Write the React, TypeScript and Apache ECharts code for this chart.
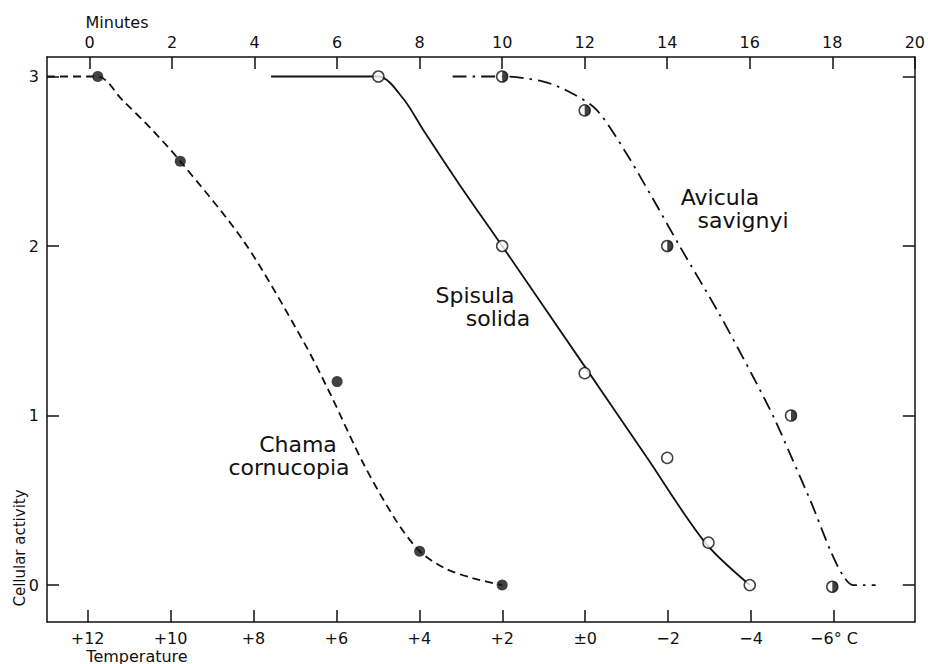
import React, { useEffect, useRef } from "react";
import * as echarts from "echarts";

// ---- tick values ----
const minuteTicks = [0, 2, 4, 6, 8, 10, 12, 14, 16, 18, 20];
const temperatureTicks = [12, 10, 8, 6, 4, 2, 0, -2, -4, -6];
const activityTicks = [0, 1, 2, 3];

// ---- measured points [minutes, cellular activity] ----
const chamaPoints = [[0.2, 3.0], [2.2, 2.5], [6.0, 1.2], [8.0, 0.2], [10.0, 0.0]];
const spisulaPoints = [[7.0, 3.0], [10.0, 2.0], [12.0, 1.25], [14.0, 0.75], [15.0, 0.25], [16.0, 0.0]];
const aviculaPoints = [[10.0, 3.0], [12.0, 2.8], [14.0, 2.0], [17.0, 1.0], [18.0, -0.01]];

// ---- fitted curves [minutes, activity] ----
const chamaCurve = [
  [-1.03, 3.0], [0.2, 3.0], [0.8, 2.86], [1.5, 2.69], [2.2, 2.5], [3.76, 2.02],
  [5.2, 1.43], [5.83, 1.13], [6.63, 0.72], [7.43, 0.38], [8.0, 0.2],
  [8.6, 0.1], [9.3, 0.04], [10.0, 0.0],
];
const spisulaCurve = [
  [4.4, 3.0], [7.0, 3.0], [7.6, 2.87], [8.1, 2.68], [9.0, 2.35], [10.0, 2.0],
  [12.0, 1.29], [13.5, 0.755], [14.92, 0.25], [16.0, 0.0],
];
const aviculaCurve = [
  [8.8, 3.0], [10.0, 3.0], [11.0, 2.97], [11.7, 2.9], [12.3, 2.8], [13.0, 2.55], [13.65, 2.28],
  [14.3, 2.0], [15.26, 1.6], [16.1, 1.22], [16.6, 0.98], [17.0, 0.76], [17.5, 0.48],
  [17.96, 0.2], [18.25, 0.06], [18.5, 0.0], [19.05, 0.0],
];

const INK = "#111111";
const FONT = "DejaVu Sans";

function tempLabel(v: number): string {
  if (v === 0) return "±0";
  if (v === -6) return "−6° C";
  if (v > 0) return "+" + v;
  return "−" + Math.abs(v);
}

export default function App() {
  const ref = useRef<HTMLDivElement>(null);

  useEffect(() => {
    if (!ref.current) return;
    const chart = echarts.init(ref.current, null, { renderer: "svg" });
    const axisLine = { show: true, onZero: false, lineStyle: { color: INK, width: 1.5 } };
    const tick = (vals: number[]) => ({
      show: true,
      inside: true,
      length: 12,
      customValues: vals,
      lineStyle: { color: INK, width: 1.5 },
    });
    const lineSeries = (name: string, data: number[][], type: any) => ({
      name,
      type: "line",
      xAxisIndex: 0,
      yAxisIndex: 0,
      data,
      showSymbol: false,
      symbol: "none",
      smooth: 0.3,
      lineStyle: { color: INK, width: 1.8, type },
      z: 2,
      silent: true,
    });

    chart.setOption({
      animation: false,
      backgroundColor: "#ffffff",
      textStyle: { fontFamily: FONT, color: INK },
      grid: { left: 47, top: 57, width: 874, height: 565, containLabel: false },
      xAxis: [
        {
          type: "value",
          position: "top",
          min: -1.03,
          max: 20,
          axisLine,
          axisTick: tick(minuteTicks),
          axisLabel: {
            customValues: minuteTicks,
            margin: 7,
            fontFamily: FONT,
            fontSize: 16,
            color: INK,
          },
          splitLine: { show: false },
        },
        {
          type: "value",
          position: "bottom",
          inverse: true,
          min: -7.95,
          max: 12.98,
          axisLine,
          axisTick: tick(temperatureTicks),
          axisLabel: {
            customValues: temperatureTicks,
            margin: 8,
            fontFamily: FONT,
            fontSize: 16,
            color: INK,
            formatter: (v: number) => tempLabel(v),
          },
          splitLine: { show: false },
        },
      ],
      yAxis: [
        {
          type: "value",
          position: "left",
          min: -0.218,
          max: 3.115,
          axisLine,
          axisTick: tick(activityTicks),
          axisLabel: {
            customValues: activityTicks,
            margin: 8,
            fontFamily: FONT,
            fontSize: 16,
            color: INK,
          },
          splitLine: { show: false },
        },
        {
          type: "value",
          position: "right",
          min: -0.218,
          max: 3.115,
          axisLine,
          axisTick: tick(activityTicks),
          axisLabel: { show: false },
          splitLine: { show: false },
        },
      ],
      series: [
        lineSeries("Chama cornucopia curve", chamaCurve, [8, 5]),
        lineSeries("Spisula solida curve", spisulaCurve, "solid"),
        lineSeries("Avicula savignyi curve", aviculaCurve, [14, 6, 2.5, 6]),
        {
          name: "Chama cornucopia",
          type: "scatter",
          data: chamaPoints,
          symbol: "circle",
          symbolSize: 11,
          itemStyle: { color: INK },
          z: 5,
          silent: true,
        },
        {
          name: "Spisula solida",
          type: "scatter",
          data: spisulaPoints,
          symbol: "circle",
          symbolSize: 11,
          itemStyle: { color: "#ffffff", borderColor: INK, borderWidth: 1.5 },
          z: 5,
          silent: true,
        },
        {
          name: "Avicula savignyi",
          type: "scatter",
          data: aviculaPoints,
          symbol: "circle",
          symbolSize: 11,
          itemStyle: { color: "#ffffff", borderColor: INK, borderWidth: 1.5 },
          z: 5,
          silent: true,
        },
        {
          name: "Avicula savignyi half",
          type: "scatter",
          data: aviculaPoints,
          symbol: "path://M0,0 A10,10 0 0,1 0,20 Z",
          symbolSize: [5.5, 11],
          symbolOffset: [2.75, 0],
          itemStyle: { color: INK },
          z: 6,
          silent: true,
        },
      ],
      graphic: [
        { type: "text", x: 117, y: 22, style: { text: "Minutes", font: `16px '${FONT}'`, fill: INK, textAlign: "center", textVerticalAlign: "middle" } },
        { type: "text", x: 137, y: 656, style: { text: "Temperature", font: `16px '${FONT}'`, fill: INK, textAlign: "center", textVerticalAlign: "middle" } },
        { type: "text", x: 20, y: 548, rotation: Math.PI / 2, style: { text: "Cellular activity", font: `15px '${FONT}'`, fill: INK, textAlign: "center", textVerticalAlign: "middle" } },
        { type: "text", x: 298, y: 444, style: { text: "Chama", font: `22px '${FONT}'`, fill: INK, textAlign: "center", textVerticalAlign: "middle" } },
        { type: "text", x: 289, y: 467, style: { text: "cornucopia", font: `22px '${FONT}'`, fill: INK, textAlign: "center", textVerticalAlign: "middle" } },
        { type: "text", x: 475, y: 295, style: { text: "Spisula", font: `22px '${FONT}'`, fill: INK, textAlign: "center", textVerticalAlign: "middle" } },
        { type: "text", x: 498, y: 318, style: { text: "solida", font: `22px '${FONT}'`, fill: INK, textAlign: "center", textVerticalAlign: "middle" } },
        { type: "text", x: 720, y: 197, style: { text: "Avicula", font: `22px '${FONT}'`, fill: INK, textAlign: "center", textVerticalAlign: "middle" } },
        { type: "text", x: 743, y: 220, style: { text: "savignyi", font: `22px '${FONT}'`, fill: INK, textAlign: "center", textVerticalAlign: "middle" } },
      ],
    });
    return () => chart.dispose();
  }, []);

  return (
    <div
      ref={ref}
      style={{ position: "fixed", left: 0, top: 0, width: 928, height: 664, background: "#fff" }}
    />
  );
}
